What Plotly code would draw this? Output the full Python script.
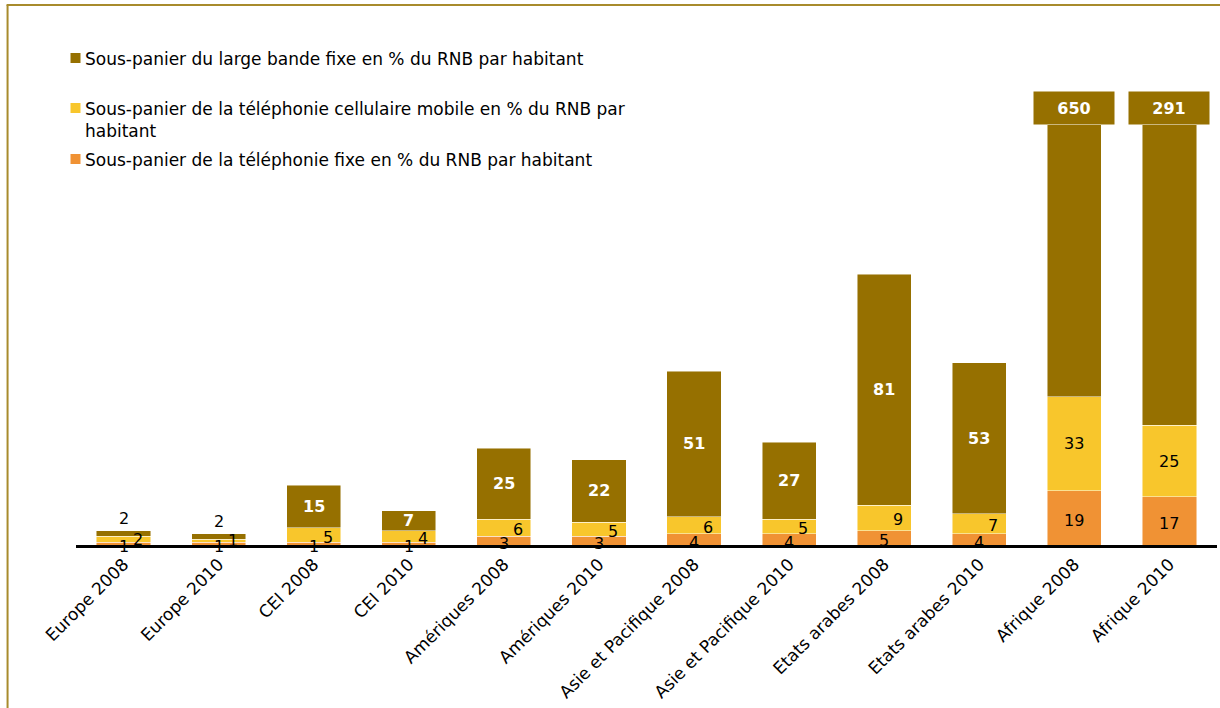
import plotly.graph_objects as go

categories = ["Europe 2008", "Europe 2010", "CEI 2008", "CEI 2010",
              "Amériques 2008", "Amériques 2010", "Asie et Pacifique 2008",
              "Asie et Pacifique 2010", "Etats arabes 2008", "Etats arabes 2010",
              "Afrique 2008", "Afrique 2010"]
fixe = [1, 1, 1, 1, 3, 3, 4, 4, 5, 4, 19, 17]
mobile = [2, 1, 5, 4, 6, 5, 6, 5, 9, 7, 33, 25]
large_bande = [2, 2, 15, 7, 25, 22, 51, 27, 81, 53, 650, 291]

series_names = [
    "Sous-panier du large bande fixe en % du RNB par habitant",
    "Sous-panier de la téléphonie cellulaire mobile en % du RNB par<br>habitant",
    "Sous-panier de la téléphonie fixe en % du RNB par habitant",
]
C_LB, C_MOB, C_FIX = "#967000", "#F8C62C", "#F09234"
FONT = "DejaVu Sans"
Y_MAX = 147.5

# plot area geometry in pixels (used to place frame and legend)
L, R, T, B = 75.5, 1217.5, 125, 545
def px_x(p):
    return (p - L) / (R - L)
def px_y(p):
    return (B - p) / (B - T)

fig = go.Figure()
edge = dict(color="rgba(255,255,255,0.6)", width=0.8)
fig.add_bar(x=categories, y=fixe, name=series_names[2], marker=dict(color=C_FIX, line=edge))
fig.add_bar(x=categories, y=mobile, name=series_names[1], marker=dict(color=C_MOB, line=edge))
fig.add_bar(x=categories, y=large_bande, name=series_names[0], marker=dict(color=C_LB, line=edge))

annotations = []
shapes = []
black = dict(family=FONT, size=16, color="black")
white = dict(family=FONT, size=16, color="white", weight="bold")
for i, cat in enumerate(categories):
    f, m, b = fixe[i], mobile[i], large_bande[i]
    # fixed telephony value
    annotations.append(dict(x=cat, y=f / 2, text=str(f), showarrow=False, font=black,
                            yshift=-3))
    # mobile value
    shift = 0 if b > 200 else 14
    annotations.append(dict(x=cat, y=f + m / 2, text=str(m), showarrow=False, font=black,
                            xshift=shift, yshift=-2 if m > 2 and b < 200 else 0))
    # broadband value
    if b > 200:
        annotations.append(dict(x=cat, y=1, yref="paper", yanchor="bottom", text=str(b),
                                showarrow=False, font=white, bgcolor=C_LB,
                                width=76, height=28, borderpad=2))
    elif b < 5:
        annotations.append(dict(x=cat, y=f + m + b, yanchor="bottom", text=str(b),
                                showarrow=False, font=black, yshift=1))
    else:
        annotations.append(dict(x=cat, y=f + m + b / 2, text=str(b), showarrow=False,
                                font=white))

# legend: swatch + label for each series
leg_font = dict(family=FONT, size=17, color="black")
leg_rows = [(58, C_LB), (108, C_MOB), (159, C_FIX)]
for (cy, col), name in zip(leg_rows, series_names):
    shapes.append(dict(type="rect", xref="paper", yref="paper",
                       x0=px_x(70), x1=px_x(80), y0=px_y(cy - 5), y1=px_y(cy + 5),
                       fillcolor=col, line=dict(width=0)))
    annotations.append(dict(xref="paper", yref="paper", x=px_x(83), y=px_y(cy - 11),
                            xanchor="left", yanchor="top", align="left", text=name,
                            showarrow=False, font=leg_font))

frame_color = "#A88B2C"
shapes += [
    dict(type="line", xref="paper", yref="paper", x0=px_x(7), x1=px_x(7),
         y0=px_y(5), y1=px_y(720), line=dict(color=frame_color, width=2)),
    dict(type="line", xref="paper", yref="paper", x0=px_x(6), x1=px_x(1230),
         y0=px_y(5), y1=px_y(5), line=dict(color=frame_color, width=2)),
]

fig.update_layout(
    barmode="stack",
    bargap=0.43,
    width=1220, height=708,
    margin=dict(l=L, r=1220 - R, t=T, b=708 - B),
    plot_bgcolor="white", paper_bgcolor="white",
    showlegend=False,
    xaxis=dict(tickangle=-45, tickfont=dict(family=FONT, size=17, color="black"),
               showline=True, linecolor="black", linewidth=2.5, ticks="",
               automargin=False, showgrid=False),
    yaxis=dict(range=[0, Y_MAX], visible=False, showgrid=False, zeroline=False),
    annotations=annotations,
    shapes=shapes,
)

fig.write_html("out.html")
